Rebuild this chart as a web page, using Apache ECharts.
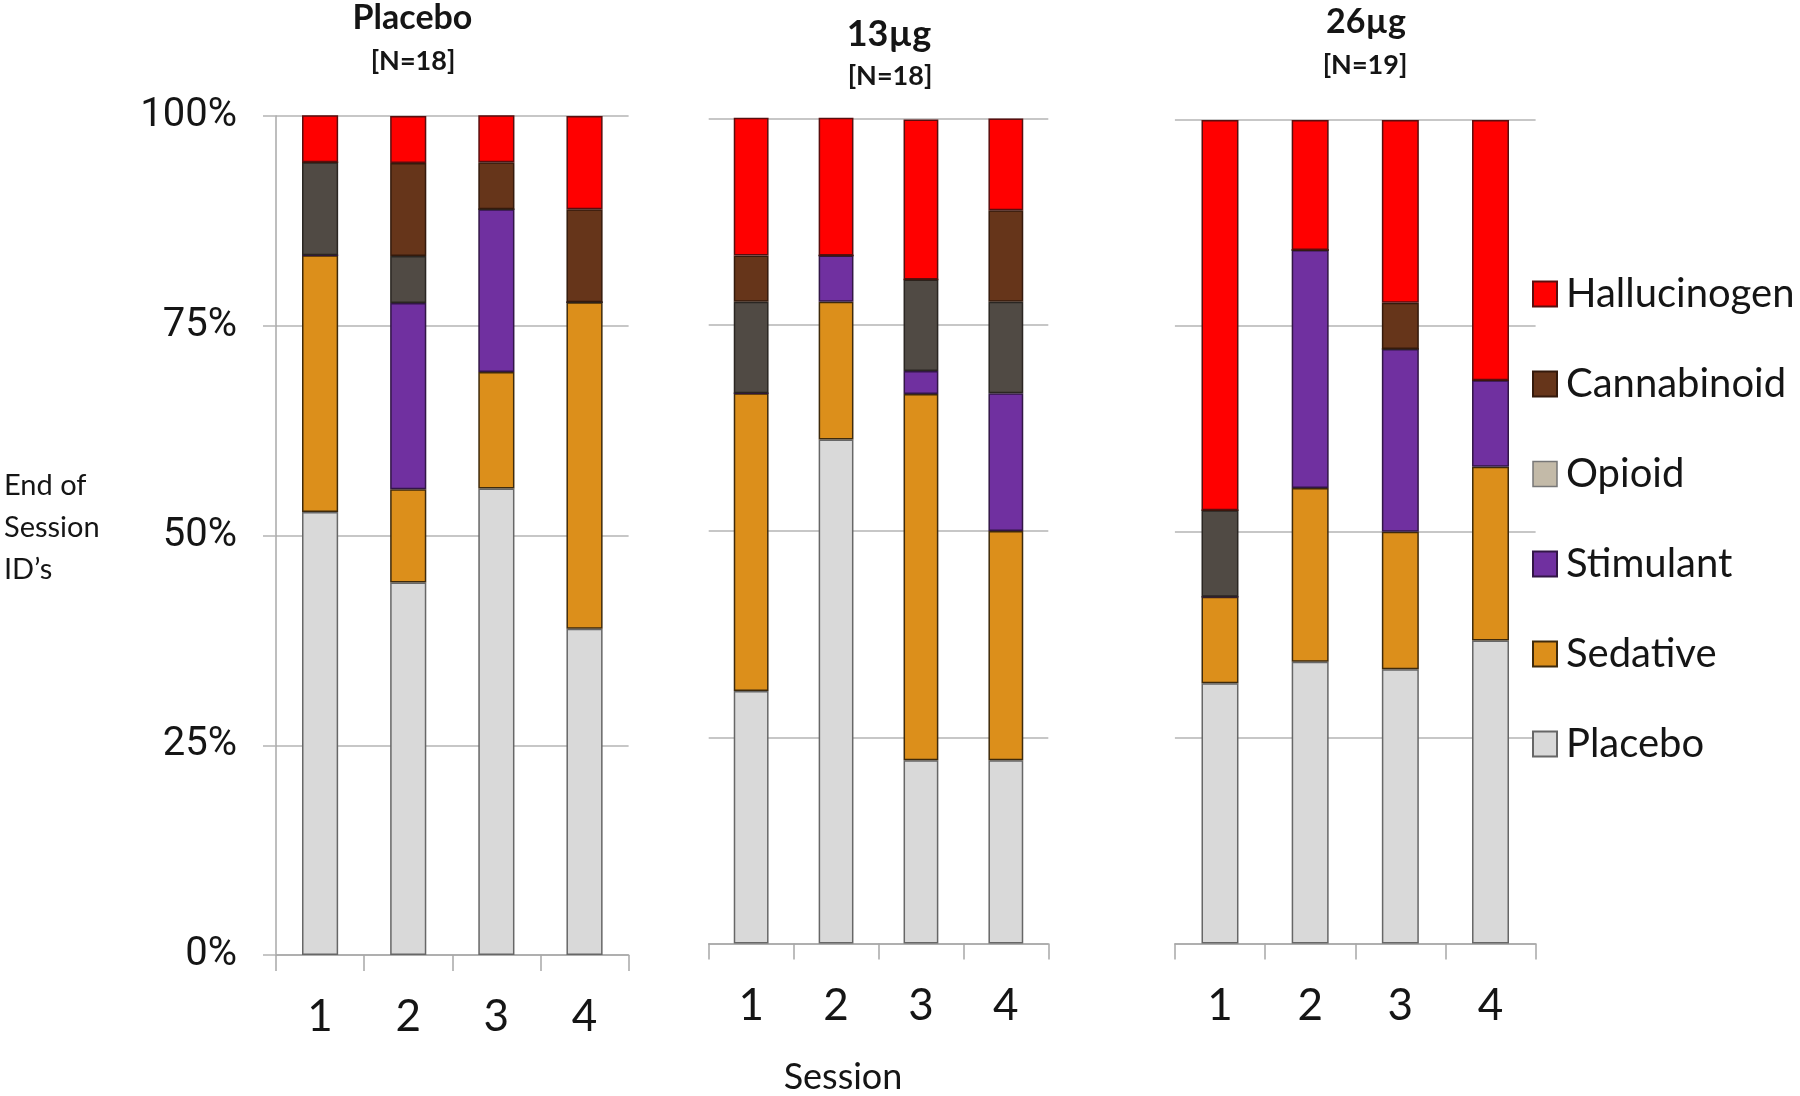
<!DOCTYPE html>
<html>
<head>
<meta charset="utf-8">
<script src="https://cdn.jsdelivr.net/npm/echarts@6/dist/echarts.min.js"></script>
<style>
html,body{margin:0;padding:0;background:#fff;}
#chart{width:1800px;height:1096px;}
</style>
</head>
<body>
<div id="chart"></div>
<script>
// ---- data (percent of end-of-session identifications) ----
var sessions = ['1', '2', '3', '4'];
var yTicks = [0, 25, 50, 75, 100];
var panelTitles = ['Placebo', '13\u00b5g', '26\u00b5g'];
var panelNs = ['[N=18]', '[N=18]', '[N=19]'];
var classNames = ['Placebo', 'Sedative', 'Stimulant', 'Opioid', 'Cannabinoid', 'Hallucinogen'];

// Placebo arm
var pPlacebo      = [52.8, 44.4, 55.6, 38.9];
var pSedative     = [30.6, 11.1, 13.9, 38.9];
var pStimulant    = [0, 22.2, 19.4, 0];
var pOpioid       = [11.1, 5.6, 0, 0];
var pCannabinoid  = [0, 11.1, 5.6, 11.1];
var pHallucinogen = [5.6, 5.6, 5.6, 11.1];

// 13 ug arm
var aPlacebo      = [30.6, 61.1, 22.2, 22.2];
var aSedative     = [36.1, 16.7, 44.4, 27.8];
var aStimulant    = [0, 5.6, 2.8, 16.7];
var aOpioid       = [11.1, 0, 11.1, 11.1];
var aCannabinoid  = [5.6, 0, 0, 11.1];
var aHallucinogen = [16.7, 16.7, 19.4, 11.1];

// 26 ug arm
var bPlacebo      = [31.6, 34.2, 33.3, 36.8];
var bSedative     = [10.5, 21.1, 16.7, 21.1];
var bStimulant    = [0, 28.9, 22.2, 10.5];
var bOpioid       = [10.5, 0, 0, 0];
var bCannabinoid  = [0, 0, 5.6, 0];
var bHallucinogen = [47.4, 15.8, 22.2, 31.6];

var panelData = [
  [pPlacebo, pSedative, pStimulant, pOpioid, pCannabinoid, pHallucinogen],
  [aPlacebo, aSedative, aStimulant, aOpioid, aCannabinoid, aHallucinogen],
  [bPlacebo, bSedative, bStimulant, bOpioid, bCannabinoid, bHallucinogen]
];

// ---- styles ----
var fillColors = {
  'Placebo': '#d9d9d9',
  'Sedative': '#dc8f1b',
  'Stimulant': '#7030a0',
  'Opioid': '#504a44',
  'Cannabinoid': '#66351a',
  'Hallucinogen': '#ff0000'
};
var borderColors = {
  'Placebo': '#676767',
  'Sedative': '#3e2a0c',
  'Stimulant': '#321646',
  'Opioid': '#2a2622',
  'Cannabinoid': '#341a0c',
  'Hallucinogen': '#5a0e0e'
};

var grids = [
  {left: 276, top: 116, width: 352.6, height: 839},
  {left: 708.7, top: 118.6, width: 339.6, height: 824.9},
  {left: 1174.9, top: 120, width: 360.7, height: 823.5}
];
var titleX = [412.5, 889, 1366];
var titleY = [18, 34, 22];
var titleSize = [34, 36, 34];
var nX = [413, 890, 1365];
var nY = [61.5, 76, 65];

var FONT = 'Lato, "Open Sans", sans-serif';
var TXT = '#151515';
var GRIDC = '#b4b4b4';

var xAxes = [], yAxes = [], series = [];
grids.forEach(function (g, i) {
  xAxes.push({
    type: 'category', gridIndex: i, data: sessions,
    axisLine: {show: true, lineStyle: {color: '#a8a8a8', width: 1.5}},
    axisTick: {show: true, length: 16, lineStyle: {color: '#a8a8a8', width: 1.5}},
    axisLabel: {fontFamily: FONT, fontSize: 44, color: TXT, margin: 40}
  });
  yAxes.push({
    type: 'value', gridIndex: i, min: yTicks[0], max: yTicks[yTicks.length - 1], interval: 25,
    axisLine: {show: i === 0, lineStyle: {color: '#a8a8a8', width: 1.5}},
    axisTick: {show: i === 0, length: 13, lineStyle: {color: GRIDC, width: 1.5}},
    axisLabel: {show: i === 0, formatter: '{value}%', fontFamily: 'Roboto, "Liberation Sans", sans-serif',
      fontWeight: 'normal', fontSize: 40, color: TXT, margin: 39, padding: [5, 0, 0, 0]},
    splitLine: {show: true, lineStyle: {color: GRIDC, width: 1.5}}
  });
  classNames.forEach(function (name, k) {
    series.push({
      type: 'bar', name: name, stack: 'panel' + i,
      xAxisIndex: i, yAxisIndex: i,
      barWidth: '41%',
      data: panelData[i][k],
      itemStyle: {color: fillColors[name], borderColor: borderColors[name], borderWidth: 1.5},
      emphasis: {disabled: true}
    });
  });
});

var graphics = [];
for (var i = 0; i < 3; i++) {
  graphics.push({type: 'text', x: titleX[i], y: titleY[i], silent: true,
    style: {text: panelTitles[i], font: 'bold ' + titleSize[i] + 'px ' + FONT, fill: TXT, textAlign: 'center', textVerticalAlign: 'middle'}});
  graphics.push({type: 'text', x: nX[i], y: nY[i], silent: true,
    style: {text: panelNs[i], font: 'bold 27px ' + FONT, fill: TXT, textAlign: 'center', textVerticalAlign: 'middle'}});
}
graphics.push({type: 'text', x: 4, y: 528, silent: true,
  style: {text: 'End of\nSession\nID\u2019s', font: '29px ' + FONT, lineHeight: 42, fill: TXT, textAlign: 'left', textVerticalAlign: 'middle'}});
graphics.push({type: 'text', x: 843, y: 1077, silent: true,
  style: {text: 'Session', font: '36px ' + FONT, fill: TXT, textAlign: 'center', textVerticalAlign: 'middle'}});

var legendOrder = ['Hallucinogen', 'Cannabinoid', 'Opioid', 'Stimulant', 'Sedative', 'Placebo'];
var legendData = legendOrder.map(function (n) {
  if (n === 'Opioid') return {name: n, itemStyle: {color: '#c3baa8', borderColor: '#777777', borderWidth: 1.5}};
  return {name: n};
});

var chart = echarts.init(document.getElementById('chart'), null, {renderer: 'canvas'});
chart.setOption({
  animation: false,
  backgroundColor: '#ffffff',
  grid: grids.map(function (g) { return {left: g.left, top: g.top, width: g.width, height: g.height, containLabel: false, outerBoundsMode: 'none'}; }),
  xAxis: xAxes,
  yAxis: yAxes,
  legend: {
    orient: 'vertical', left: 1532, top: 274, padding: 0,
    itemWidth: 24, itemHeight: 25, itemGap: 50,
    icon: 'rect',
    data: legendData,
    selectedMode: false,
    textStyle: {fontFamily: FONT, fontSize: 40, lineHeight: 40, color: TXT, padding: [0, 0, 0, 4]}
  },
  graphic: graphics,
  series: series
});
</script>
</body>
</html>
